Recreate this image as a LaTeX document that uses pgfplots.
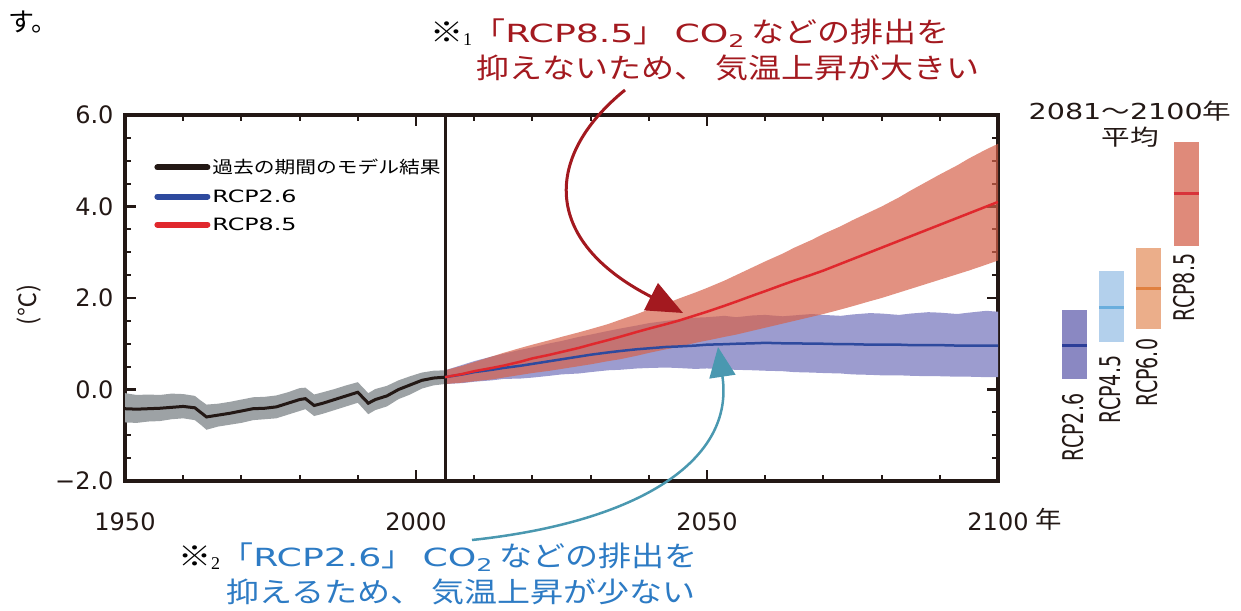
\documentclass[border=0pt]{standalone}
\usepackage{fontspec}
\usepackage{graphicx}
\usepackage{pgfplots}
\usepackage{pgfplotstable}
\pgfplotsset{compat=1.18}
\usepgfplotslibrary{fillbetween}
\usetikzlibrary{arrows.meta}

\setmainfont{DejaVu Sans}
\newfontfamily\jp{Noto Sans CJK JP}
\newfontfamily\serif{Liberation Serif}

\definecolor{axdark}{HTML}{231815}
\definecolor{histband}{HTML}{9DA2A5}
\definecolor{histline}{HTML}{231815}
\definecolor{lowband}{HTML}{9C9CCF}
\definecolor{lowline}{HTML}{2E4A9E}
\definecolor{highband}{HTML}{D5624B}
\definecolor{highline}{HTML}{E0282D}
\definecolor{annred}{HTML}{A3191F}
\definecolor{annblue}{HTML}{2D7BC4}
\definecolor{arrblue}{HTML}{4A98B0}
\definecolor{b26}{HTML}{8A88C2}
\definecolor{m26}{HTML}{2C3E98}
\definecolor{b45}{HTML}{B3D0EC}
\definecolor{m45}{HTML}{6AAEDD}
\definecolor{b60}{HTML}{EBAE8A}
\definecolor{m60}{HTML}{E0803F}
\definecolor{b85}{HTML}{DF8A7A}
\definecolor{m85}{HTML}{D8333A}

\newcommand{\J}[2][1.18]{\scalebox{#1}[1]{\jp #2}}
\newcommand{\Lt}[2][1.45]{\scalebox{#1}[1]{#2}}

% model results, 1950-2005
\pgfplotstableread{
year mean lo hi
1950 -0.42 -0.72 -0.08
1952 -0.43 -0.73 -0.12
1954 -0.42 -0.70 -0.11
1956 -0.41 -0.69 -0.12
1958 -0.39 -0.65 -0.09
1960 -0.37 -0.63 -0.10
1962 -0.40 -0.67 -0.14
1963 -0.50 -0.77 -0.24
1964 -0.60 -0.88 -0.33
1966 -0.56 -0.81 -0.31
1968 -0.52 -0.77 -0.27
1970 -0.47 -0.73 -0.22
1972 -0.42 -0.67 -0.17
1974 -0.41 -0.65 -0.16
1976 -0.38 -0.63 -0.13
1978 -0.30 -0.55 -0.06
1980 -0.22 -0.47 0.03
1981 -0.20 -0.43 0.04
1982.5 -0.35 -0.58 -0.11
1984 -0.30 -0.53 -0.06
1986 -0.22 -0.45 0.01
1988 -0.14 -0.37 0.09
1990 -0.06 -0.29 0.16
1991.8 -0.30 -0.54 -0.08
1993 -0.22 -0.45 0.01
1995 -0.14 -0.37 0.08
1997 0.00 -0.21 0.20
1999 0.10 -0.11 0.29
2001 0.20 0.02 0.37
2003 0.25 0.09 0.41
2005 0.27 0.12 0.42
}\hist

% RCP2.6
\pgfplotstableread{
year mean lo hi
2005 0.27 0.12 0.42
2008 0.33 0.14 0.54
2010 0.38 0.17 0.62
2013 0.43 0.20 0.72
2015 0.47 0.23 0.78
2018 0.52 0.24 0.87
2020 0.56 0.26 0.92
2023 0.62 0.30 1.01
2025 0.66 0.33 1.06
2028 0.72 0.35 1.15
2030 0.76 0.38 1.20
2033 0.81 0.42 1.28
2035 0.84 0.43 1.33
2038 0.88 0.46 1.40
2040 0.90 0.47 1.45
2043 0.93 0.48 1.50
2045 0.94 0.47 1.53
2048 0.96 0.45 1.57
2050 0.98 0.46 1.58
2053 0.99 0.44 1.61
2055 1.00 0.43 1.58
2058 1.01 0.42 1.62
2060 1.02 0.41 1.63
2063 1.01 0.40 1.60
2065 1.01 0.38 1.62
2068 1.00 0.37 1.65
2070 1.00 0.36 1.63
2073 0.99 0.35 1.61
2075 0.99 0.33 1.64
2078 0.98 0.32 1.67
2080 0.98 0.31 1.66
2083 0.98 0.31 1.63
2085 0.97 0.30 1.66
2088 0.97 0.29 1.69
2090 0.97 0.29 1.68
2093 0.96 0.28 1.65
2095 0.96 0.28 1.68
2098 0.96 0.27 1.72
2100 0.96 0.27 1.70
}\low

% RCP8.5
\pgfplotstableread{
year mean lo hi
2005 0.27 0.12 0.42
2008 0.34 0.15 0.52
2010 0.40 0.18 0.60
2013 0.47 0.22 0.72
2015 0.52 0.26 0.80
2018 0.61 0.32 0.91
2020 0.68 0.36 0.98
2023 0.76 0.41 1.08
2025 0.82 0.45 1.15
2028 0.91 0.51 1.25
2030 0.98 0.55 1.32
2033 1.08 0.62 1.43
2035 1.15 0.66 1.52
2038 1.26 0.74 1.65
2040 1.33 0.80 1.75
2043 1.43 0.88 1.88
2045 1.50 0.93 1.98
2048 1.62 1.02 2.12
2050 1.70 1.07 2.22
2053 1.83 1.15 2.38
2055 1.92 1.20 2.50
2058 2.06 1.29 2.68
2060 2.15 1.35 2.80
2063 2.29 1.44 2.97
2065 2.38 1.50 3.10
2068 2.51 1.59 3.27
2070 2.60 1.65 3.40
2073 2.75 1.75 3.57
2075 2.85 1.82 3.70
2078 3.00 1.93 3.88
2080 3.10 2.00 4.00
2083 3.25 2.12 4.20
2085 3.35 2.20 4.35
2088 3.50 2.32 4.56
2090 3.60 2.40 4.70
2093 3.75 2.52 4.90
2095 3.85 2.60 5.05
2098 4.00 2.73 5.25
2100 4.10 2.82 5.37
}\high

\begin{document}
\begin{tikzpicture}

\begin{axis}[
  at={(125pt,129pt)}, anchor=south west,
  scale only axis, width=873pt, height=366pt,
  xmin=1950, xmax=2100, ymin=-2, ymax=6,
  xtick={1950,2000,2050,2100}, xticklabels={1950,2000,2050,2100},
  ytick={-2,0,2,4,6}, yticklabels={−2.0,0.0,2.0,4.0,6.0},
  minor x tick num=4, minor y tick num=3,
  tick align=inside, tick pos=both,
  major tick length=11pt, minor tick length=6pt,
  every tick/.append style={axdark, line width=2.5pt},
  every minor tick/.append style={axdark, line width=2pt},
  separate axis lines,
  axis line style={axdark, line width=3.5pt, line cap=rect},
  ticklabel style={font=\fontsize{24}{24}\selectfont, text=axdark},
  xticklabel style={yshift=-28pt},
  yticklabel style={xshift=-8pt},
  legend cell align=left,
  legend style={draw=none, fill=none, at={(0.03,0.89)}, anchor=north west,
    font=\fontsize{17}{19}\selectfont, row sep=10pt},
  legend image code/.code={\draw[#1, line width=6pt, line cap=round] (0pt,0pt) -- (50pt,0pt);},
]
% bands
\addplot[draw=none, name path=hlo, forget plot] table[x=year,y=lo]{\hist};
\addplot[draw=none, name path=hhi, forget plot] table[x=year,y=hi]{\hist};
\addplot[fill=histband, draw=none, forget plot] fill between[of=hlo and hhi];
\addplot[draw=none, name path=llo, forget plot] table[x=year,y=lo]{\low};
\addplot[draw=none, name path=lhi, forget plot] table[x=year,y=hi]{\low};
\addplot[fill=lowband, draw=none, forget plot] fill between[of=llo and lhi];
\addplot[draw=none, name path=rlo, forget plot] table[x=year,y=lo]{\high};
\addplot[draw=none, name path=rhi, forget plot] table[x=year,y=hi]{\high};
\addplot[fill=highband, fill opacity=0.7, draw=none, forget plot] fill between[of=rlo and rhi];
% 2005 divider
\addplot[axdark, line width=3pt, forget plot] coordinates {(2005,-2) (2005,6)};
% means
\addplot[histline, line width=3pt] table[x=year,y=mean]{\hist};
\addlegendentry{\J[1.22]{過去の期間のモデル結果}}
\addplot[lowline, line width=2.5pt] table[x=year,y=mean]{\low};
\addlegendentry{\Lt[1.4]{RCP2.6}}
\addplot[highline, line width=2.5pt] table[x=year,y=mean]{\high};
\addlegendentry{\Lt[1.4]{RCP8.5}}
\end{axis}

% 2081-2100 averages
\begin{axis}[
  at={(1000pt,129pt)}, anchor=south west,
  scale only axis, width=241pt, height=366pt,
  xmin=-1.003, xmax=5.476, ymin=-2, ymax=6,
  hide axis, clip=false,
]
\addplot[fill=b26, draw=none] coordinates {(0.664,0.24) (1.336,0.24) (1.336,1.73) (0.664,1.73)};
\addplot[m26, line width=2.5pt] coordinates {(0.664,0.96) (1.336,0.96)};
\addplot[fill=b45, draw=none] coordinates {(1.664,1.03) (2.336,1.03) (2.336,2.60) (1.664,2.60)};
\addplot[m45, line width=2.5pt] coordinates {(1.664,1.79) (2.336,1.79)};
\addplot[fill=b60, draw=none] coordinates {(2.664,1.33) (3.336,1.33) (3.336,3.10) (2.664,3.10)};
\addplot[m60, line width=2.5pt] coordinates {(2.664,2.21) (3.336,2.21)};
\addplot[fill=b85, draw=none] coordinates {(3.664,3.13) (4.336,3.13) (4.336,5.42) (3.664,5.42)};
\addplot[m85, line width=2.5pt] coordinates {(3.664,4.28) (4.336,4.28)};
\node[anchor=north, inner sep=0pt, text=axdark] at (axis cs:0.95,-0.09)
  {\scalebox{1.5}[1]{\rotatebox{90}{\fontsize{19}{19}\selectfont RCP2.6}}};
\node[anchor=north, inner sep=0pt, text=axdark] at (axis cs:1.95,0.74)
  {\scalebox{1.5}[1]{\rotatebox{90}{\fontsize{19}{19}\selectfont RCP4.5}}};
\node[anchor=north, inner sep=0pt, text=axdark] at (axis cs:2.95,1.11)
  {\scalebox{1.5}[1]{\rotatebox{90}{\fontsize{19}{19}\selectfont RCP6.0}}};
\node[anchor=north, inner sep=0pt, text=axdark] at (axis cs:3.95,2.97)
  {\scalebox{1.5}[1]{\rotatebox{90}{\fontsize{19}{19}\selectfont RCP8.5}}};
\end{axis}

\begin{scope}[x=1pt,y=1pt]
% texts
\node[anchor=west, inner sep=0pt] at (8,588) {\fontsize{26}{26}\selectfont\jp す。};
\node[rotate=90, text=axdark] at (29,305) {\fontsize{24}{24}\selectfont\jp (℃)};
\node[text=axdark] at (1049,91) {\fontsize{24}{24}\selectfont\J[1.1]{年}};
\node[text=axdark] at (1130,499) {\fontsize{22}{22}\selectfont\scalebox{1.3}[1]{2081{\jp ～}2100{\jp 年}}};
\node[text=axdark] at (1130,473) {\fontsize{22}{22}\selectfont\J[1.3]{平均}};

\node[anchor=west, inner sep=0pt, text=annred] at (430,577) {\fontsize{28}{28}\selectfont
  {\color{black}\J{※}{\serif\fontsize{18}{18}\selectfont\raisebox{-3pt}{1}}}\J{「}\Lt{\fontsize{25}{25}\selectfont RCP8.5}\J{」}\hspace{8pt}\Lt{\fontsize{25}{25}\selectfont CO\textsubscript{2}}\hspace{6pt}\J{などの排出を}};
\node[anchor=west, inner sep=0pt, text=annred] at (476,542) {\fontsize{28}{28}\selectfont
  \J{抑えないため、}\hspace{8pt}\J{気温上昇が大きい}};
\node[anchor=west, inner sep=0pt, text=annblue] at (178,53) {\fontsize{28}{28}\selectfont
  {\color{black}\J{※}{\serif\fontsize{18}{18}\selectfont\raisebox{-3pt}{2}}}\J{「}\Lt{\fontsize{25}{25}\selectfont RCP2.6}\J{」}\hspace{8pt}\Lt{\fontsize{25}{25}\selectfont CO\textsubscript{2}}\hspace{6pt}\J{などの排出を}};
\node[anchor=west, inner sep=0pt, text=annblue] at (226,18) {\fontsize{28}{28}\selectfont
  \J{抑えるため、}\hspace{8pt}\J{気温上昇が少ない}};

% arrows
\draw[annred, line width=3pt, -{Triangle[length=36pt,width=30pt]}]
  (625,520) .. controls (545,455) and (540,370) .. (683,297);
\draw[arrblue, line width=2.5pt, -{Triangle[length=30pt,width=26pt]}]
  (472,70) .. controls (640,88) and (735,150) .. (718,263);

\pgfresetboundingbox
\useasboundingbox (0,0) rectangle (1241,610);
\end{scope}
\end{tikzpicture}
\end{document}
